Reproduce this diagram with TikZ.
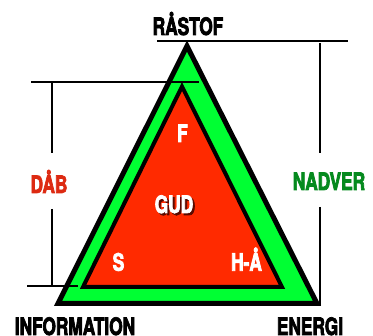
\documentclass[tikz,border=0pt]{standalone}
\usepackage{fontspec}
\usetikzlibrary{positioning}
\newfontfamily\condfont[FakeStretch=0.72, BoldFeatures={FakeBold=3}]{TeX Gyre Heros}
\definecolor{triGreen}{HTML}{00FF33}
\definecolor{triRed}{HTML}{FF2A00}
\definecolor{dabRed}{HTML}{DD2A12}
\definecolor{nadGreen}{HTML}{058A1E}
\definecolor{gudShadow}{HTML}{5A0A00}
\tikzset{
  lbl/.style={font=\fontsize{24}{24}\selectfont\condfont\bfseries, inner sep=0pt, anchor=base},
  inlbl/.style={lbl, text=white},
  dim/.style={line width=1.3pt, draw=black}
}
\begin{document}
\begin{tikzpicture}[x=1pt,y=-1pt]
  \useasboundingbox (0,0) rectangle (373,336);

  % outer (green) and inner (red) triangles
  \draw[fill=triGreen, line width=5pt, line join=miter]
    (187,46) coordinate (oTop) -- (58,303.5) coordinate (oLeft)
    -- (317,303.5) coordinate (oRight) -- cycle;
  \draw[fill=triRed, line width=4pt, line join=miter]
    (182,86.5) coordinate (iTop) -- (83,287) coordinate (iLeft)
    -- (282,287) coordinate (iRight) -- cycle;

  % corner labels
  \node[lbl] (raastof) at (188,35) {RÅSTOF};
  \node[lbl] (info) at (75,335) {INFORMATION};
  \node[lbl] (energi) at (310,335) {ENERGI};

  % inner labels
  \node[inlbl] (f) at (182.5,142) {F};
  \node[lbl, text=gudShadow] (gudsh) at (176,215) {GUD};
  \node[inlbl] (gud) at (174,213) {GUD};
  \node[inlbl] (s) at (118.5,270.7) {S};
  \node[inlbl] (hå) at (246.5,270.7) {H-Å};

  % side labels
  \node[lbl, text=dabRed] (dab) at (49,193) {DÅB};
  \node[lbl, text=nadGreen] (nadver) at (329,190) {NADVER};

  % left bracket (DÅB)
  \coordinate (dabTL) at (31,82);
  \coordinate (dabTR) at (199,82);
  \coordinate (dabBL) at (27,286);
  \coordinate (dabBR) at (78,286);
  \draw[dim] (dabTL) -- (dabTR);
  \draw[dim] (dabBL) -- (dabBR);
  \draw[dim] (52,82) -- (52,153);
  \draw[dim] (52,209) -- (52,286);

  % right bracket (NADVER)
  \coordinate (nadTL) at (157,41);
  \coordinate (nadTR) at (348,41);
  \draw[dim] (nadTL) -- (nadTR);
  \draw[dim] (320,43) -- (320,153);
  \draw[dim] (320,207) -- (320,306);
\end{tikzpicture}
\end{document}
